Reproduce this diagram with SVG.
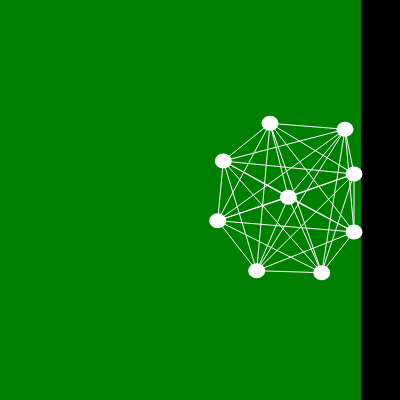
<svg xmlns="http://www.w3.org/2000/svg" width="400" height="400" viewBox="0 0 400 400">
<style>
.e line{stroke:#fff;stroke-width:1}
.n ellipse{fill:#fff;rx:8.5px;ry:7.5px}
</style>
<rect width="400" height="400" fill="#000"/>
<rect width="361" height="400" fill="#008000"/>
<g class="e" id="edges">
<line x1="270" y1="123.3" x2="345" y2="129.3"/>
<line x1="270" y1="123.3" x2="223.3" y2="161"/>
<line x1="270" y1="123.3" x2="354" y2="174"/>
<line x1="270" y1="123.3" x2="288.3" y2="197.3"/>
<line x1="270" y1="123.3" x2="217.7" y2="220.7"/>
<line x1="270" y1="123.3" x2="354" y2="232"/>
<line x1="270" y1="123.3" x2="256.7" y2="270.7"/>
<line x1="270" y1="123.3" x2="321.7" y2="272.7"/>
<line x1="345" y1="129.3" x2="223.3" y2="161"/>
<line x1="345" y1="129.3" x2="354" y2="174"/>
<line x1="345" y1="129.3" x2="288.3" y2="197.3"/>
<line x1="345" y1="129.3" x2="217.7" y2="220.7"/>
<line x1="345" y1="129.3" x2="354" y2="232"/>
<line x1="345" y1="129.3" x2="256.7" y2="270.7"/>
<line x1="345" y1="129.3" x2="321.7" y2="272.7"/>
<line x1="223.3" y1="161" x2="354" y2="174"/>
<line x1="223.3" y1="161" x2="288.3" y2="197.3"/>
<line x1="223.3" y1="161" x2="217.7" y2="220.7"/>
<line x1="223.3" y1="161" x2="354" y2="232"/>
<line x1="223.3" y1="161" x2="256.7" y2="270.7"/>
<line x1="223.3" y1="161" x2="321.7" y2="272.7"/>
<line x1="354" y1="174" x2="288.3" y2="197.3"/>
<line x1="354" y1="174" x2="217.7" y2="220.7"/>
<line x1="354" y1="174" x2="354" y2="232"/>
<line x1="354" y1="174" x2="256.7" y2="270.7"/>
<line x1="354" y1="174" x2="321.7" y2="272.7"/>
<line x1="288.3" y1="197.3" x2="217.7" y2="220.7"/>
<line x1="288.3" y1="197.3" x2="354" y2="232"/>
<line x1="288.3" y1="197.3" x2="256.7" y2="270.7"/>
<line x1="288.3" y1="197.3" x2="321.7" y2="272.7"/>
<line x1="217.7" y1="220.7" x2="354" y2="232"/>
<line x1="217.7" y1="220.7" x2="256.7" y2="270.7"/>
<line x1="217.7" y1="220.7" x2="321.7" y2="272.7"/>
<line x1="354" y1="232" x2="256.7" y2="270.7"/>
<line x1="354" y1="232" x2="321.7" y2="272.7"/>
<line x1="256.7" y1="270.7" x2="321.7" y2="272.7"/>
</g>
<g class="n">
<g id="n1"><ellipse cx="270" cy="123.3" rx="8.5" ry="7.5"/></g>
<g id="n2"><ellipse cx="345" cy="129.3" rx="8.5" ry="7.5"/></g>
<g id="n3"><ellipse cx="223.3" cy="161" rx="8.5" ry="7.5"/></g>
<g id="n4"><ellipse cx="354" cy="174" rx="8.5" ry="7.5"/></g>
<g id="n5"><ellipse cx="288.3" cy="197.3" rx="8.5" ry="7.5"/></g>
<g id="n6"><ellipse cx="217.7" cy="220.7" rx="8.5" ry="7.5"/></g>
<g id="n7"><ellipse cx="354" cy="232" rx="8.5" ry="7.5"/></g>
<g id="n8"><ellipse cx="256.7" cy="270.7" rx="8.5" ry="7.5"/></g>
<g id="n9"><ellipse cx="321.7" cy="272.7" rx="8.5" ry="7.5"/></g>
</g>
</svg>
